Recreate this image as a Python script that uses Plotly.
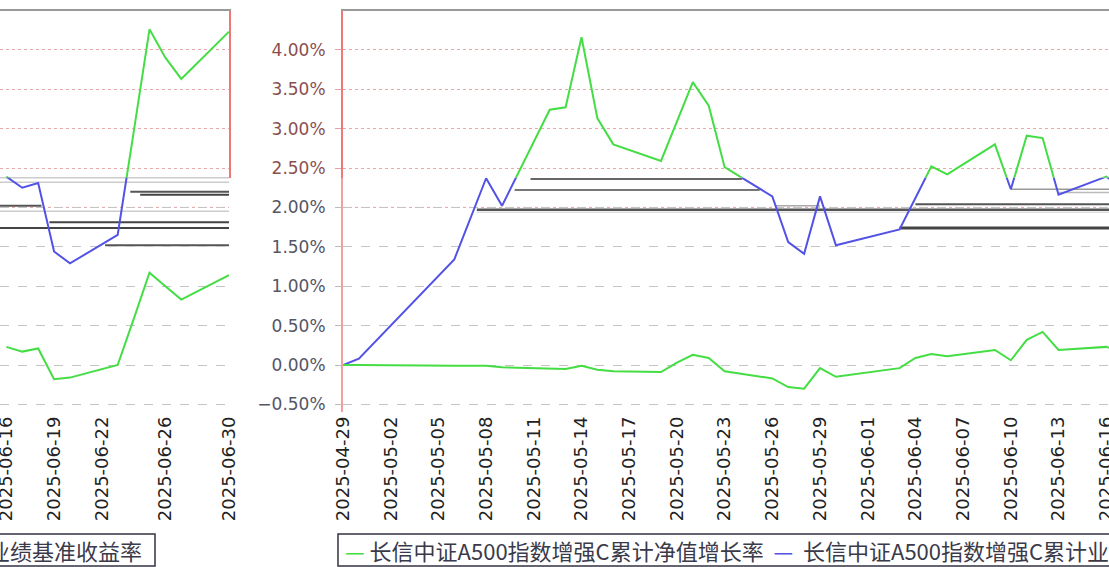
import plotly.graph_objects as go

# ---------------- data ----------------
dates = [
    "2025-04-29", "2025-04-30", "2025-05-06", "2025-05-07", "2025-05-08", "2025-05-09",
    "2025-05-12", "2025-05-13", "2025-05-14", "2025-05-15", "2025-05-16",
    "2025-05-19", "2025-05-20", "2025-05-21", "2025-05-22", "2025-05-23",
    "2025-05-26", "2025-05-27", "2025-05-28", "2025-05-29", "2025-05-30",
    "2025-06-03", "2025-06-04", "2025-06-05", "2025-06-06",
    "2025-06-09", "2025-06-10", "2025-06-11", "2025-06-12", "2025-06-13",
    "2025-06-16", "2025-06-17", "2025-06-18", "2025-06-19", "2025-06-20",
    "2025-06-23", "2025-06-24", "2025-06-25", "2025-06-26", "2025-06-27", "2025-06-30",
]
# upper line (drawn green above the seam, blue below it)
upper_line = [
    0.00, 0.08, 1.34, 1.86, 2.37, 2.02,
    3.24, 3.27, 4.16, 3.13, 2.80,
    2.59, 3.10, 3.59, 3.29, 2.51,
    2.14, 1.56, 1.41, 2.14, 1.52,
    1.72, 2.12, 2.52, 2.42,
    2.80, 2.23, 2.91, 2.88, 2.16,
    2.39, 2.25, 2.31, 1.44, 1.29,
    1.65, 2.95, 4.26, 3.90, 3.63, 4.23,
]
# lower line (green)
lower_line = [
    0.00, 0.00, -0.01, -0.01, -0.01, -0.03,
    -0.04, -0.05, -0.01, -0.06, -0.08,
    -0.09, 0.03, 0.13, 0.09, -0.08,
    -0.17, -0.28, -0.30, -0.04, -0.15,
    -0.04, 0.09, 0.14, 0.11,
    0.19, 0.06, 0.32, 0.42, 0.19,
    0.23, 0.17, 0.21, -0.18, -0.16,
    0.00, 0.58, 1.17, 1.00, 0.83, 1.14,
]
main_ticks = ["2025-04-29", "2025-05-02", "2025-05-05", "2025-05-08", "2025-05-11",
              "2025-05-14", "2025-05-17", "2025-05-20", "2025-05-23", "2025-05-26",
              "2025-05-29", "2025-06-01", "2025-06-04", "2025-06-07", "2025-06-10",
              "2025-06-13", "2025-06-16"]
left_ticks = ["2025-06-16", "2025-06-19", "2025-06-22", "2025-06-26", "2025-06-30"]
y_upper_ticks = [2.5, 3.0, 3.5, 4.0]
y_lower_ticks = [-0.5, 0.0, 0.5, 1.0, 1.5, 2.0]
legend_main = "长信中证A500指数增强C累计净值增长率"
legend_second = "长信中证A500指数增强C累计业"
legend_wrap = "业绩基准收益率"
left_start = "2025-06-16"

# horizontal tearing streaks: (value %, start, end, colour, width, axes)
streaks = [
    (2.36, "2025-05-10 19:00", "2025-05-24 02:00", "#666666", 2, "main"),
    (2.22, "2025-05-09 19:00", "2025-05-25 05:00", "#777777", 2, "main"),
    (1.97, "2025-05-07 10:00", "2025-06-17", "#555555", 2.5, "main"),
    (2.04, "2025-06-04", "2025-06-17", "#555555", 2, "main"),
    (1.74, "2025-06-03", "2025-06-17", "#444444", 3, "main"),
    (2.23, "2025-06-10", "2025-06-17", "#999999", 1.5, "main"),
    (2.19, "2025-06-13", "2025-06-17", "#bbbbbb", 1.5, "main"),
    (2.02, "2025-05-26 04:00", "2025-05-29", "#aaaaaa", 1.5, "main"),
    (1.94, "2025-05-07 10:00", "2025-06-17", "#dddddd", 1.5, "main"),
    (2.38, "2025-06-15", "2025-07-01", "#999999", 1.5, "left"),
    (2.32, "2025-06-15", "2025-07-01", "#cccccc", 1.5, "left"),
    (2.20, "2025-06-23 19:00", "2025-07-01", "#555555", 2, "left"),
    (2.16, "2025-06-24 10:00", "2025-07-01", "#444444", 2, "left"),
    (2.02, "2025-06-15", "2025-06-18 05:00", "#555555", 2, "left"),
    (1.95, "2025-06-15", "2025-07-01", "#cccccc", 1.5, "left"),
    (1.81, "2025-06-18 17:00", "2025-07-01", "#444444", 2, "left"),
    (1.74, "2025-06-15", "2025-07-01", "#444444", 2, "left"),
    (1.52, "2025-06-22 05:00", "2025-07-01", "#555555", 2, "left"),
]

# ---------------- geometry ----------------
W, H = 1109, 567
px_per_pct = 78.8
zero_px = 365
top_px, seam_px, bottom_px = 11, 177.5, 412
seam_val = (zero_px - seam_px) / px_per_pct
top_val = (zero_px - top_px) / px_per_pct
bottom_val = (zero_px - bottom_px) / px_per_pct
dom_top = [1 - seam_px / H, 1 - top_px / H]
dom_bot = [1 - bottom_px / H, 1 - seam_px / H]
main_dom = [343 / W, 1.0]
left_dom = [0.0, 229 / W]
main_range = ["2025-04-29", "2025-06-16 04:10"]
left_range = ["2025-06-15 14:24", "2025-06-30"]

GREEN = "#44dd44"
BLUE = "#5252e6"

fig = go.Figure()
li = dates.index(left_start)

def add(x, y, color, xa, ya):
    fig.add_trace(go.Scatter(x=x, y=y, mode="lines", line=dict(color=color, width=2),
                             xaxis=xa, yaxis=ya, showlegend=False, hoverinfo="skip"))

# main panel
add(dates, upper_line, BLUE, "x", "y")
add(dates, lower_line, GREEN, "x", "y")
add(dates, upper_line, GREEN, "x2", "y2")
# left (wrapped) panel
add(dates[li:], upper_line[li:], BLUE, "x3", "y3")
add(dates[li:], lower_line[li:], GREEN, "x3", "y3")
add(dates[li:], upper_line[li:], GREEN, "x4", "y4")

tick_font = dict(family="DejaVu Sans", size=18, color="#222222")
ylab_low = dict(family="DejaVu Sans", size=17, color="#555566")
ylab_up = dict(family="DejaVu Sans", size=17, color="#8a4f4f")

def fmt(v):
    s = f"{abs(v):.2f}%"
    return ("\u2212" + s) if v < 0 else s

xbase = dict(type="date", showgrid=False, zeroline=False, automargin=False,
             ticklabeloverflow="allow")
fig.update_layout(
    width=W, height=H, margin=dict(l=0, r=0, t=0, b=0, autoexpand=False),
    paper_bgcolor="white", plot_bgcolor="white", showlegend=False,
    xaxis=dict(**xbase, domain=main_dom, range=main_range, anchor="y",
               tickmode="array", tickvals=main_ticks, ticktext=main_ticks,
               tickangle=-90, tickfont=tick_font, ticks=""),
    xaxis2=dict(**xbase, domain=main_dom, range=main_range, anchor="y2", matches="x",
                showticklabels=False, side="top", showline=True,
                linecolor="#999999", linewidth=2),
    xaxis3=dict(**xbase, domain=left_dom, range=left_range, anchor="y3",
                tickmode="array", tickvals=left_ticks, ticktext=left_ticks,
                tickangle=-90, tickfont=tick_font, ticks=""),
    xaxis4=dict(**xbase, domain=left_dom, range=left_range, anchor="y4", matches="x3",
                showticklabels=False, side="top", showline=True,
                linecolor="#999999", linewidth=2),
    yaxis=dict(domain=dom_bot, range=[bottom_val, seam_val], anchor="x", automargin=False,
               tickmode="array", tickvals=y_lower_ticks,
               ticktext=[fmt(v) for v in y_lower_ticks], tickfont=ylab_low,
               ticks="outside", ticklen=6, tickcolor="#bbbbbb", ticklabelstandoff=6,
               showgrid=True, gridcolor="#c4c4c4", griddash="dash", gridwidth=1,
               zeroline=False, showline=True, linecolor="#f0a0a0", linewidth=2),
    yaxis2=dict(domain=dom_top, range=[seam_val, top_val], anchor="x2", automargin=False,
                tickmode="array", tickvals=y_upper_ticks,
                ticktext=[fmt(v) for v in y_upper_ticks], tickfont=ylab_up,
                ticks="outside", ticklen=6, tickcolor="#e8a0a0", ticklabelstandoff=6,
                showgrid=True, gridcolor="#eaa8a8", griddash="dot", gridwidth=1,
                zeroline=False, showline=True, linecolor="#ee7777", linewidth=2),
    yaxis3=dict(domain=dom_bot, range=[bottom_val, seam_val], anchor="x3", automargin=False,
                tickmode="array", tickvals=y_lower_ticks, showticklabels=False,
                showgrid=True, gridcolor="#c4c4c4", griddash="dash", gridwidth=1,
                zeroline=False),
    yaxis4=dict(domain=dom_top, range=[seam_val, top_val], anchor="x4", side="right",
                automargin=False,
                tickmode="array", tickvals=y_upper_ticks, showticklabels=False,
                showgrid=True, gridcolor="#eaa8a8", griddash="dot", gridwidth=1,
                zeroline=False, showline=True, linecolor="#ee7777", linewidth=2),
)

shapes = []
# pink 2.00% line in the lower region
for xr, yr in (("x", "y"), ("x3", "y3")):
    shapes.append(dict(type="line", xref=f"{xr} domain", yref=yr, x0=0, x1=1, y0=2.0, y1=2.0,
                       line=dict(color="#e8a0a0", width=1, dash="dot"), layer="below"))
for val, a, b, col, w, which in streaks:
    xr, yr = ("x", "y") if which == "main" else ("x3", "y3")
    shapes.append(dict(type="line", xref=xr, yref=yr, x0=a, x1=b, y0=val, y1=val,
                       line=dict(color=col, width=w), layer="below"))
# legend frames
shapes.append(dict(type="rect", xref="paper", yref="paper", x0=338 / W, x1=1.02,
                   y0=1 - 566 / H, y1=1 - 534 / H, line=dict(color="#333344", width=1.5)))
shapes.append(dict(type="rect", xref="paper", yref="paper", x0=-0.02, x1=155 / W,
                   y0=1 - 566 / H, y1=1 - 534 / H, line=dict(color="#333344", width=1.5)))
fig.update_layout(shapes=shapes)

leg_font = dict(family="Noto Sans CJK SC", size=22, color="#3a3a4a")
fig.add_annotation(
    xref="paper", yref="paper", x=343 / W, y=1 - 550 / H, xanchor="left", yanchor="middle",
    showarrow=False, font=leg_font,
    text=(f"<span style='color:{GREEN}'>—</span>\u00a0{legend_main}\u00a0\u00a0"
          f"<span style='color:{BLUE}'>—</span>\u00a0\u00a0{legend_second}"),
)
fig.add_annotation(
    xref="paper", yref="paper", x=-14 / W, y=1 - 550 / H, xanchor="left", yanchor="middle",
    showarrow=False, font=leg_font, text=legend_wrap,
)

fig.write_html(
    "out.html",
    config={"displayModeBar": False},
    post_script="document.body.style.margin='0';document.body.style.overflow='hidden';",
)
